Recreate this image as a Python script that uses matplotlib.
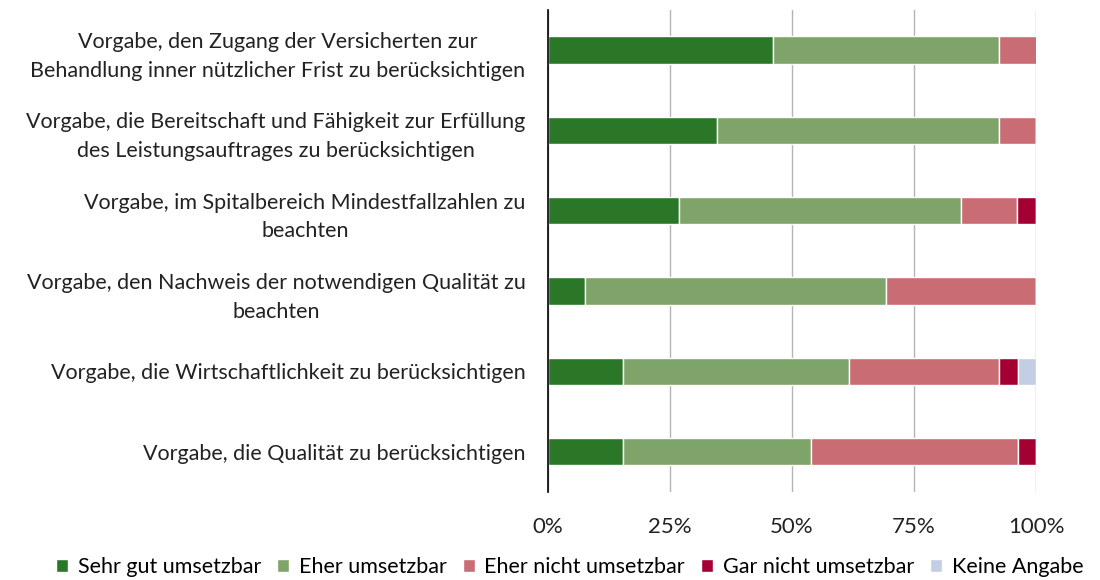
import matplotlib
matplotlib.use("Agg")
import matplotlib.pyplot as plt
from matplotlib.ticker import PercentFormatter

plt.rcParams["font.family"] = ["Lato", "DejaVu Sans"]

# answers out of 26 respondents, shares in percent (top to bottom)
categories = [
    "Vorgabe, den Zugang der Versicherten zur\nBehandlung inner nützlicher Frist zu berücksichtigen",
    "Vorgabe, die Bereitschaft und Fähigkeit zur Erfüllung\ndes Leistungsauftrages zu berücksichtigen",
    "Vorgabe, im Spitalbereich Mindestfallzahlen zu\nbeachten",
    "Vorgabe, den Nachweis der notwendigen Qualität zu\nbeachten",
    "Vorgabe, die Wirtschaftlichkeit zu berücksichtigen",
    "Vorgabe, die Qualität zu berücksichtigen",
]
series_names = ["Sehr gut umsetzbar", "Eher umsetzbar", "Eher nicht umsetzbar",
                "Gar nicht umsetzbar", "Keine Angabe"]
sehr_gut = [46.2, 34.6, 26.9, 7.7, 15.4, 15.4]
eher = [46.2, 57.7, 57.7, 61.5, 46.2, 38.5]
eher_nicht = [7.7, 7.7, 11.5, 30.8, 30.8, 42.3]
gar_nicht = [0.0, 0.0, 3.8, 0.0, 3.8, 3.8]
keine = [0.0, 0.0, 0.0, 0.0, 3.8, 0.0]
colors = ["#2A7727", "#7EA46A", "#C96C74", "#A50034", "#C3CDE4"]
xticks = [0, 25, 50, 75, 100]

FS = 15.5

fig = plt.figure(figsize=(11, 5.8), dpi=100)
ax = fig.add_axes([0.498, 0.152, 0.444, 0.831])

ypos = list(range(len(categories)))
left = [0.0] * len(categories)
for name, vals, col in zip(series_names, [sehr_gut, eher, eher_nicht, gar_nicht, keine], colors):
    ax.barh(ypos, vals, left=left, height=0.34, color=col, edgecolor="white",
            linewidth=1.0, label=name, zorder=3)
    left = [l + v for l, v in zip(left, vals)]

ax.set_ylim(len(categories) - 0.5, -0.5)
ax.set_xlim(0, 100)
ax.set_xticks(xticks)
ax.xaxis.set_major_formatter(PercentFormatter(decimals=0))
ax.set_yticks(ypos)
ax.set_yticklabels(categories, fontsize=FS, color="#222222")
for t in ax.get_yticklabels():
    t.set_multialignment("center")
    t.set_linespacing(1.55)
ax.tick_params(axis="y", length=0, pad=16)
ax.tick_params(axis="x", length=0, pad=18, labelsize=FS + 0.5, labelcolor="#222222")
ax.grid(axis="x", color="#B4B4B4", linewidth=1.0, zorder=0)
for s in ("top", "right", "bottom"):
    ax.spines[s].set_visible(False)
ax.spines["left"].set_color("black")
ax.spines["left"].set_linewidth(1.2)
ax.spines["left"].set_zorder(4)

fig.legend(loc="center", bbox_to_anchor=(0.518, 0.022), ncol=5, frameon=False,
           fontsize=FS, handlelength=0.55, handleheight=0.55, handletextpad=0.45,
           columnspacing=0.75)

fig.savefig("out.png", dpi=100)
